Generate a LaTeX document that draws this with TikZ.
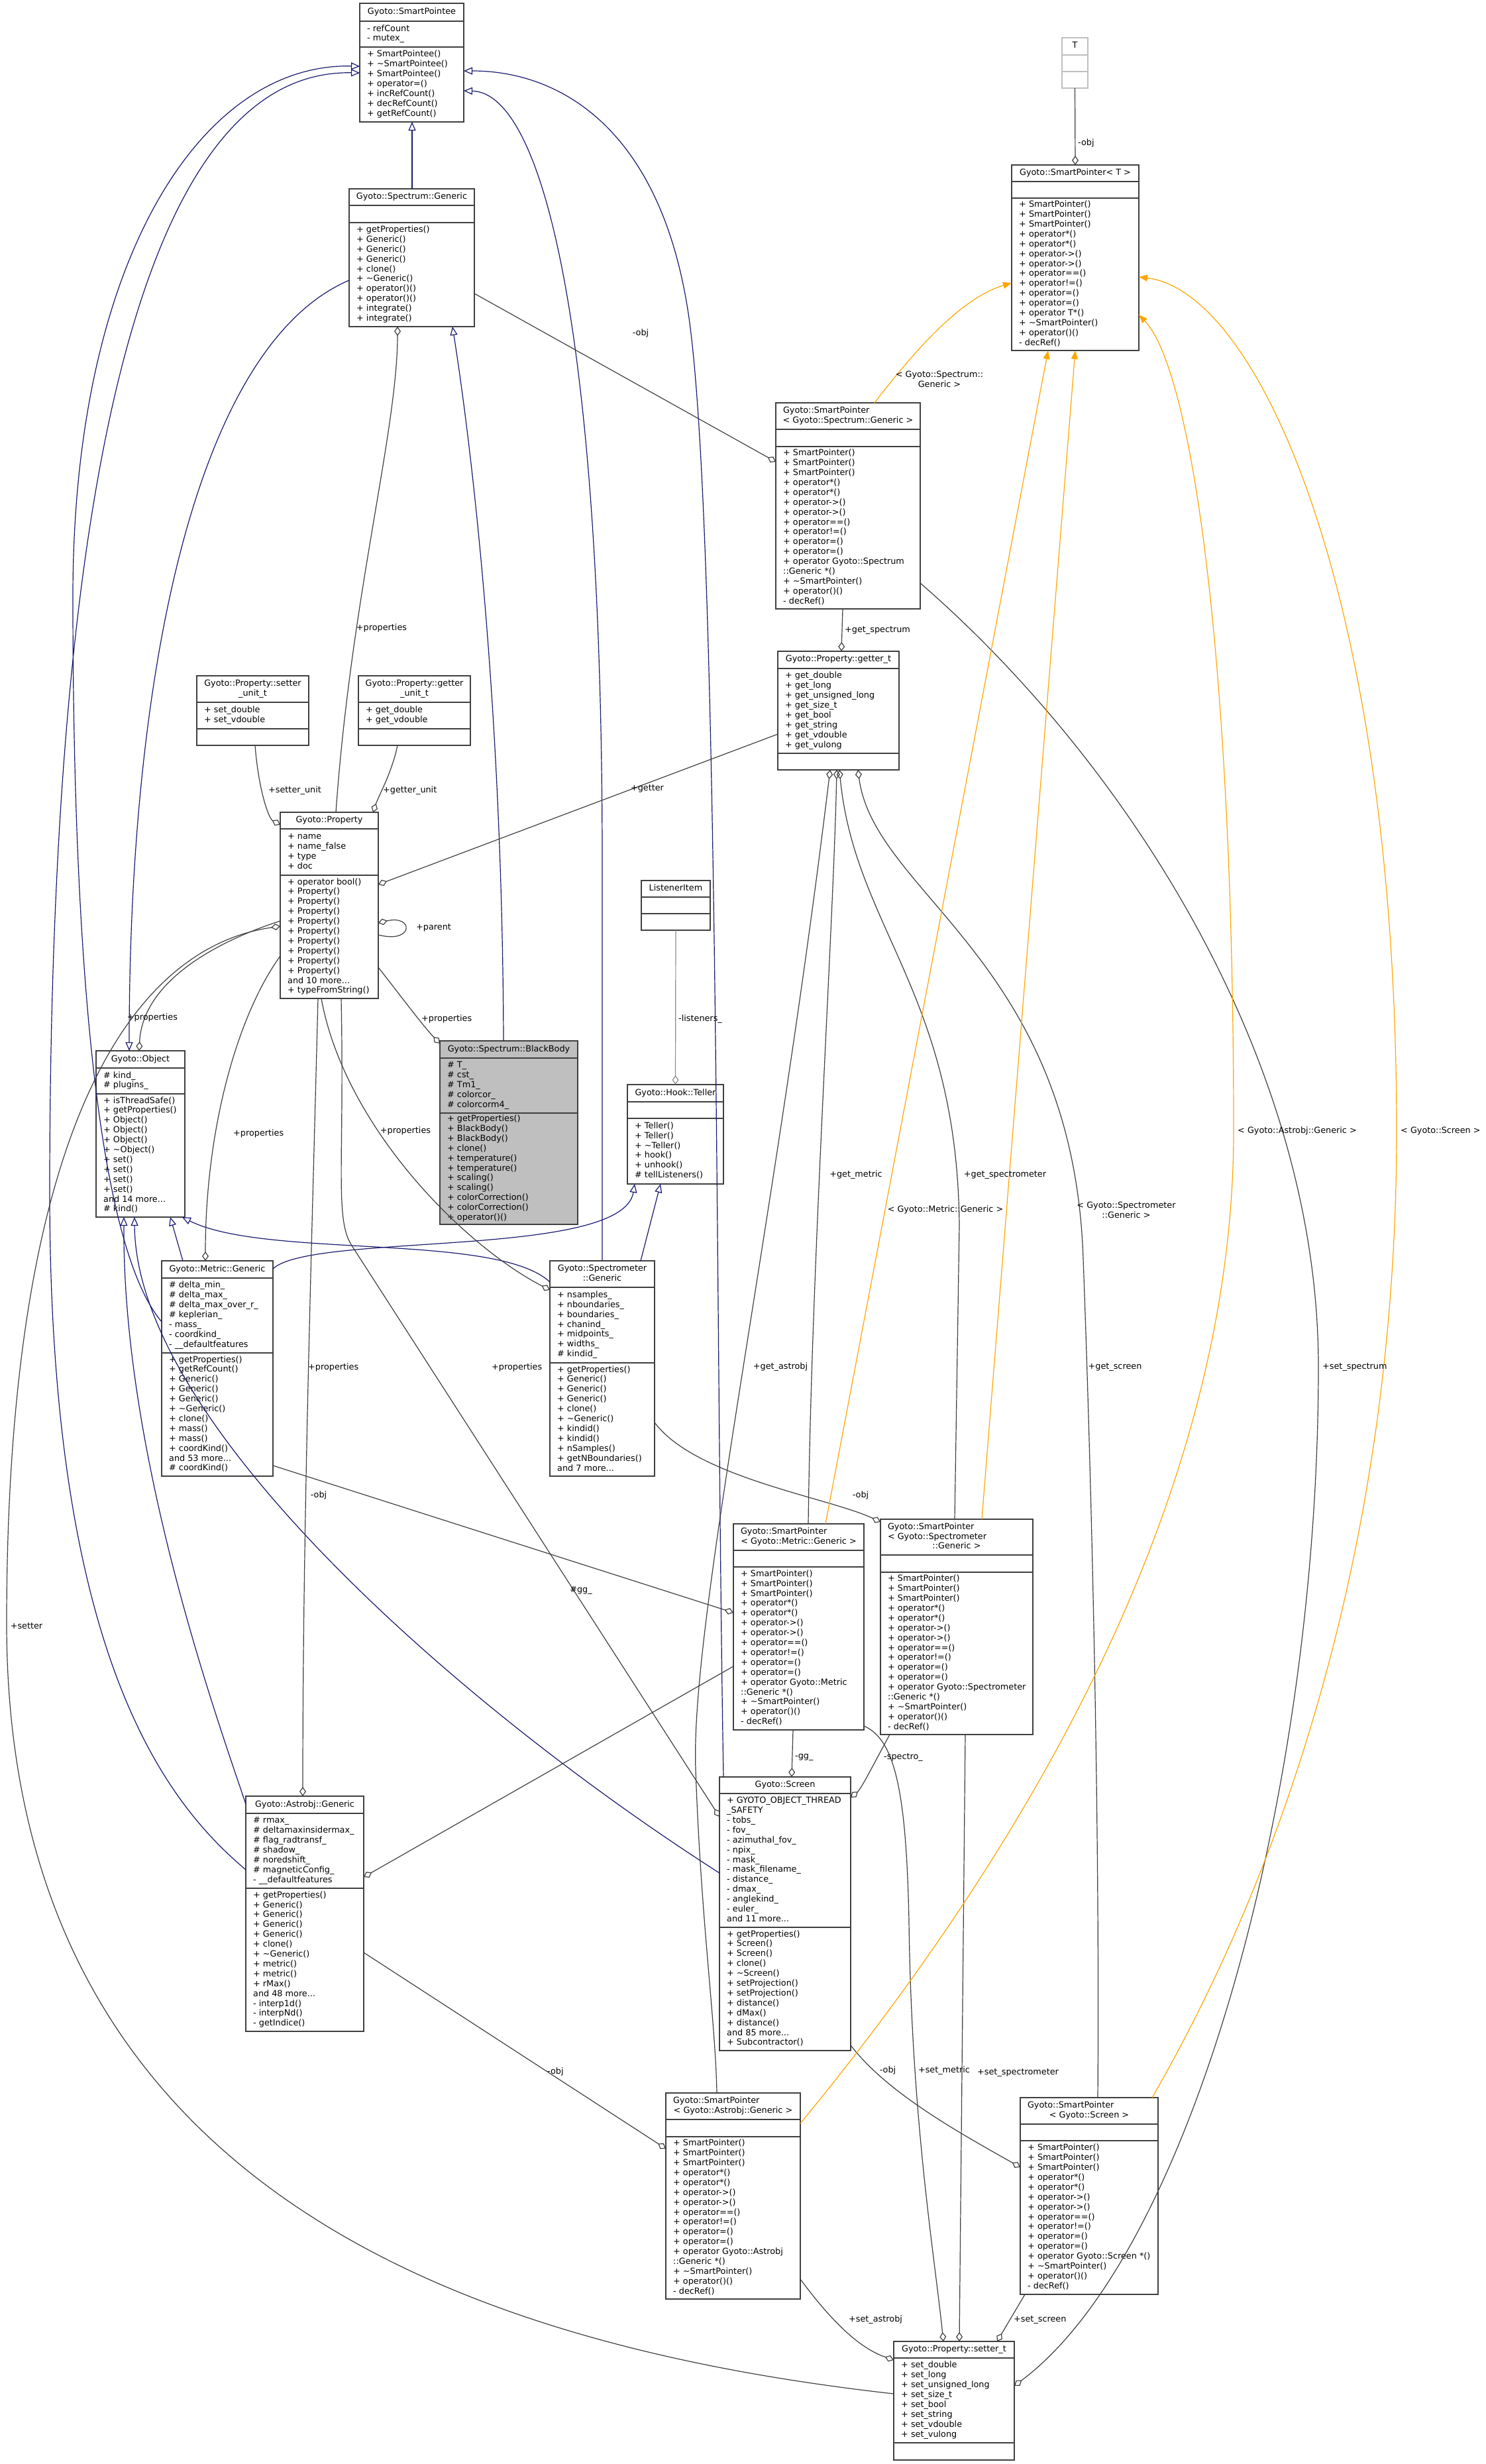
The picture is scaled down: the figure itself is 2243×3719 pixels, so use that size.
\documentclass[tikz,border=0pt]{standalone}
\usepackage{fontspec}
\setmainfont{DejaVu Sans}
\usetikzlibrary{arrows.meta,calc}
\definecolor{inhc}{HTML}{191970}
\definecolor{usec}{HTML}{404040}
\definecolor{boxc}{HTML}{404040}
\definecolor{tmplc}{HTML}{FFA500}
\definecolor{bbfill}{HTML}{BFBFBF}
\definecolor{lightc}{HTML}{BFBFBF}
\definecolor{lisc}{HTML}{8C8C8C}
\newcommand\boxfont{\fontsize{12.8}{14.9}\selectfont}
\newlength\umltw
\newcommand\lft[1]{\makebox[\umltw][l]{#1}}
\def\umlgeom#1,#2,#3,#4,#5,#6\relax{\def\ux{#1}\def\uy{#2}\def\uxx{#3}\def\uya{#4}\def\uyb{#5}\def\uyy{#6}}
\tikzset{
  umlframe/.style={draw=boxc,line width=1.3pt,fill=white,inner sep=0pt,outer sep=0pt,anchor=north west},
  umlsep/.style={draw=boxc,line width=1.3pt},
  umltext/.style={inner sep=0pt,font=\boxfont},
  elabel/.style={inner sep=0pt,font=\boxfont,align=center},
  inh/.style={draw=inhc,line width=1.2pt,-{Triangle[open,length=13pt,width=11pt]}},
  usel/.style={draw=usec,line width=1.2pt,-{Diamond[open,length=14pt,width=10pt]}},
  tmpl/.style={draw=tmplc,line width=1.2pt,-{Triangle[length=13pt,width=10pt]}},
}
\newcommand\umlbox[6][]{%
  \umlgeom#3\relax
  \setlength\umltw{\dimexpr\uxx pt-\ux pt-22pt\relax}%
  \node[umlframe,minimum width={\uxx-\ux},minimum height={\uyy-\uy},#1] (#2) at (\ux,\uy) {};
  \draw[umlsep,#1] (\ux,\uya) -- (\uxx,\uya) (\ux,\uyb) -- (\uxx,\uyb);
  \node[umltext] (#2-t) at ({(\ux+\uxx)/2},{(\uy+\uya)/2}) {\begin{tabular}{@{}c@{}}#4\end{tabular}};
  \node[umltext,anchor=west] (#2-a) at ({\ux+11},{(\uya+\uyb)/2}) {\begin{tabular}{@{}l@{}}#5\end{tabular}};
  \node[umltext,anchor=west] (#2-m) at ({\ux+11},{(\uyb+\uyy)/2}) {\begin{tabular}{@{}l@{}}#6\end{tabular}};
}
\newcommand\tld{\textasciitilde}
\begin{document}
\begin{tikzpicture}[x=1pt,y=-1pt]
\useasboundingbox (0,0) rectangle (2243,3719);
\fill[white] (0,0) rectangle (2243,3719);

% ---------- boxes ----------
\umlbox{spe}{543,5,700,32,71,184}{Gyoto::SmartPointee}{- refCount\\- mutex\_}{+ SmartPointee()\\+ \tld SmartPointee()\\+ SmartPointee()\\+ operator=()\\+ incRefCount()\\+ decRefCount()\\+ getRefCount()}

\umlbox{spg}{527,285,716,310,336,493}{Gyoto::Spectrum::Generic}{}{+ getProperties()\\+ Generic()\\+ Generic()\\+ Generic()\\+ clone()\\+ \tld Generic()\\+ operator()()\\+ operator()()\\+ integrate()\\+ integrate()}

\umlbox[draw=lightc]{tt}{1603,57,1642,83,108,133}{T}{}{}

\umlbox{spt}{1527,249,1719,274,299,529}{Gyoto::SmartPointer< T >}{}{+ SmartPointer()\\+ SmartPointer()\\+ SmartPointer()\\+ operator*()\\+ operator*()\\+ operator->()\\+ operator->()\\+ operator==()\\+ operator!=()\\+ operator=()\\+ operator=()\\+ operator T*()\\+ \tld SmartPointer()\\+ operator()()\\- decRef()}

\umlbox{sps}{1171,608,1389,648,674,919}{\lft{Gyoto::SmartPointer}\\< Gyoto::Spectrum::Generic >}{}{+ SmartPointer()\\+ SmartPointer()\\+ SmartPointer()\\+ operator*()\\+ operator*()\\+ operator->()\\+ operator->()\\+ operator==()\\+ operator!=()\\+ operator=()\\+ operator=()\\+ operator Gyoto::Spectrum\\::Generic *()\\+ \tld SmartPointer()\\+ operator()()\\- decRef()}

\umlbox{gt}{1174,983,1357,1009,1137,1162}{Gyoto::Property::getter\_t}{+ get\_double\\+ get\_long\\+ get\_unsigned\_long\\+ get\_size\_t\\+ get\_bool\\+ get\_string\\+ get\_vdouble\\+ get\_vulong}{}

\umlbox{sut}{297,1020,466,1060,1100,1125}{Gyoto::Property::setter\\\_unit\_t}{+ set\_double\\+ set\_vdouble}{}

\umlbox{gut}{541,1020,710,1060,1100,1125}{Gyoto::Property::getter\\\_unit\_t}{+ get\_double\\+ get\_vdouble}{}

\umlbox{prop}{423,1226,571,1251,1321,1507}{Gyoto::Property}{+ name\\+ name\_false\\+ type\\+ doc}{+ operator bool()\\+ Property()\\+ Property()\\+ Property()\\+ Property()\\+ Property()\\+ Property()\\+ Property()\\+ Property()\\+ Property()\\and 10 more...\\+ typeFromString()}

\umlbox{li}{968,1329,1072,1354,1379,1404}{ListenerItem}{}{}

\umlbox{obj}{145,1586,279,1612,1651,1837}{Gyoto::Object}{\# kind\_\\\# plugins\_}{+ isThreadSafe()\\+ getProperties()\\+ Object()\\+ Object()\\+ Object()\\+ \tld Object()\\+ set()\\+ set()\\+ set()\\+ set()\\and 14 more...\\\# kind()}

\umlbox[fill=bbfill]{bb}{664,1571,872,1597,1680,1848}{Gyoto::Spectrum::BlackBody}{\# T\_\\\# cst\_\\\# Tm1\_\\\# colorcor\_\\\# colorcorm4\_}{+ getProperties()\\+ BlackBody()\\+ BlackBody()\\+ clone()\\+ temperature()\\+ temperature()\\+ scaling()\\+ scaling()\\+ colorCorrection()\\+ colorCorrection()\\+ operator()()}

\umlbox{tel}{947,1637,1092,1663,1688,1787}{Gyoto::Hook::Teller}{}{+ Teller()\\+ Teller()\\+ \tld Teller()\\+ hook()\\+ unhook()\\\# tellListeners()}

\umlbox{met}{244,1903,412,1929,2042,2228}{Gyoto::Metric::Generic}{\# delta\_min\_\\\# delta\_max\_\\\# delta\_max\_over\_r\_\\\# keplerian\_\\- mass\_\\- coordkind\_\\- \_\_defaultfeatures}{+ getProperties()\\+ getRefCount()\\+ Generic()\\+ Generic()\\+ Generic()\\+ \tld Generic()\\+ clone()\\+ mass()\\+ mass()\\+ coordKind()\\and 53 more...\\\# coordKind()}

\umlbox{spm}{830,1903,988,1943,2057,2228}{Gyoto::Spectrometer\\::Generic}{+ nsamples\_\\+ nboundaries\_\\+ boundaries\_\\+ chanind\_\\+ midpoints\_\\+ widths\_\\\# kindid\_}{+ getProperties()\\+ Generic()\\+ Generic()\\+ Generic()\\+ clone()\\+ \tld Generic()\\+ kindid()\\+ kindid()\\+ nSamples()\\+ getNBoundaries()\\and 7 more...}

\umlbox{spmet}{1107,2300,1304,2340,2365,2611}{\lft{Gyoto::SmartPointer}\\< Gyoto::Metric::Generic >}{}{+ SmartPointer()\\+ SmartPointer()\\+ SmartPointer()\\+ operator*()\\+ operator*()\\+ operator->()\\+ operator->()\\+ operator==()\\+ operator!=()\\+ operator=()\\+ operator=()\\+ operator Gyoto::Metric\\::Generic *()\\+ \tld SmartPointer()\\+ operator()()\\- decRef()}

\umlbox{spspec}{1329,2293,1559,2347,2373,2618}{\lft{Gyoto::SmartPointer}\\\lft{< Gyoto::Spectrometer}\\::Generic >}{}{+ SmartPointer()\\+ SmartPointer()\\+ SmartPointer()\\+ operator*()\\+ operator*()\\+ operator->()\\+ operator->()\\+ operator==()\\+ operator!=()\\+ operator=()\\+ operator=()\\+ operator Gyoto::Spectrometer\\::Generic *()\\+ \tld SmartPointer()\\+ operator()()\\- decRef()}

\umlbox{ast}{371,2711,549,2737,2850,3066}{Gyoto::Astrobj::Generic}{\# rmax\_\\\# deltamaxinsidermax\_\\\# flag\_radtransf\_\\\# shadow\_\\\# noredshift\_\\\# magneticConfig\_\\- \_\_defaultfeatures}{+ getProperties()\\+ Generic()\\+ Generic()\\+ Generic()\\+ Generic()\\+ clone()\\+ \tld Generic()\\+ metric()\\+ metric()\\+ rMax()\\and 48 more...\\- interp1d()\\- interpNd()\\- getIndice()}

\umlbox{scr}{1086,2682,1284,2707,2909,3095}{Gyoto::Screen}{+ GYOTO\_OBJECT\_THREAD\\\_SAFETY\\- tobs\_\\- fov\_\\- azimuthal\_fov\_\\- npix\_\\- mask\_\\- mask\_filename\_\\- distance\_\\- dmax\_\\- anglekind\_\\- euler\_\\and 11 more...}{+ getProperties()\\+ Screen()\\+ Screen()\\+ clone()\\+ \tld Screen()\\+ setProjection()\\+ setProjection()\\+ distance()\\+ dMax()\\+ distance()\\and 85 more...\\+ Subcontractor()}

\umlbox{spast}{1005,3159,1208,3199,3225,3470}{\lft{Gyoto::SmartPointer}\\< Gyoto::Astrobj::Generic >}{}{+ SmartPointer()\\+ SmartPointer()\\+ SmartPointer()\\+ operator*()\\+ operator*()\\+ operator->()\\+ operator->()\\+ operator==()\\+ operator!=()\\+ operator=()\\+ operator=()\\+ operator Gyoto::Astrobj\\::Generic *()\\+ \tld SmartPointer()\\+ operator()()\\- decRef()}

\umlbox{spscr}{1540,3166,1748,3206,3231,3463}{\lft{Gyoto::SmartPointer}\\< Gyoto::Screen >}{}{+ SmartPointer()\\+ SmartPointer()\\+ SmartPointer()\\+ operator*()\\+ operator*()\\+ operator->()\\+ operator->()\\+ operator==()\\+ operator!=()\\+ operator=()\\+ operator=()\\+ operator Gyoto::Screen *()\\+ \tld SmartPointer()\\+ operator()()\\- decRef()}

\umlbox{st}{1349,3534,1531,3559,3687,3713}{Gyoto::Property::setter\_t}{+ set\_double\\+ set\_long\\+ set\_unsigned\_long\\+ set\_size\_t\\+ set\_bool\\+ set\_string\\+ set\_vdouble\\+ set\_vulong}{}

% ---------- inheritance ----------
\draw[inh] ($(spg.north west)+(95,0)$) -- ($(spe.south west)+(79,0)$);
\draw[inh] ($(spg.north west)+(0,138)$) .. controls (300,520) and (195,1000) .. ($(obj.north west)+(50,0)$);
\draw[inh] ($(bb.north west)+(96,0)$) .. controls (758,1000) and (700,600) .. ($(spg.south west)+(156,0)$);
\draw[inh] ($(met.north west)+(32,0)$) -- ($(obj.south west)+(112,0)$);
\draw[inh] ($(ast.north west)+(0,12)$) .. controls (330,2600) and (185,2200) .. ($(obj.south west)+(42,0)$);
\draw[inh] ($(scr.north west)+(0,145)$) .. controls (700,2580) and (205,2150) .. ($(obj.south west)+(58,0)$);
\draw[inh] ($(spm.north west)+(0,32)$) .. controls (750,1860) and (400,1900) .. ($(obj.south east)+(-4,0)$);
\draw[inh] ($(met.north west)+(0,92)$) .. controls (130,1860) and (110,1300) .. (110,900) .. controls (110,400) and (300,95) .. ($(spe.north west)+(0,95)$);
\draw[inh] ($(ast.north west)+(0,111)$) .. controls (250,2720) and (75,2500) .. (75,1800) .. controls (75,600) and (250,105) .. ($(spe.north west)+(0,105)$);
\draw[inh] ($(spm.north west)+(79,0)$) -- (909,1300) .. controls (909,500) and (820,140) .. ($(spe.north east)+(0,132)$);
\draw[inh] ($(scr.north west)+(6,0)$) .. controls (1080,2000) and (1085,800) .. (1040,480) .. controls (1000,200) and (850,107) .. ($(spe.north east)+(0,102)$);
\draw[inh] ($(met.north east)+(0,12)$) .. controls (470,1860) and (940,1900) .. ($(tel.south west)+(11,0)$);
\draw[inh] ($(spm.north west)+(137,0)$) -- ($(tel.south west)+(50,0)$);

% ---------- usage ----------
\draw[usel] (tt.south) -- (spt.north);
\draw[usel] ($(spg.north east)+(0,158)$) -- ($(sps.north west)+(0,89)$);
\draw[usel] ($(sps.south west)+(101,0)$) -- ($(gt.north west)+(96,0)$);
\draw[usel] ($(sps.south east)+(0,-39)$) .. controls (1700,1150) and (1990,1600) .. (1990,2063) .. controls (1990,2700) and (1800,3400) .. ($(st.north east)+(0,67)$);
\draw[usel] ($(gt.north west)+(0,125)$) -- ($(prop.north east)+(0,109)$);
\draw[usel] ($(sut.south west)+(88,0)$) .. controls (390,1190) and (405,1235) .. ($(prop.north west)+(0,19)$);
\draw[usel] ($(gut.south west)+(59,0)$) .. controls (592,1165) and (572,1200) .. ($(prop.north west)+(140,0)$);
\draw[usel] ($(prop.north west)+(84,0)$) .. controls (530,900) and (600,650) .. ($(spg.south west)+(73,0)$);
\draw[usel] ($(prop.north east)+(0,185)$) .. controls (625,1425) and (625,1380) .. ($(prop.north east)+(0,167)$);
\draw[usel] ($(prop.north west)+(0,164)$) .. controls (330,1420) and (215,1480) .. ($(obj.north west)+(65,0)$);
\draw[usel] ($(prop.north east)+(0,234)$) .. controls (610,1510) and (640,1550) .. ($(bb.north west)+(0,4)$);
\draw[usel] ($(prop.north west)+(0,217)$) .. controls (360,1530) and (310,1700) .. ($(met.north west)+(66,0)$);
\draw[usel] ($(prop.south west)+(62,0)$) .. controls (520,1700) and (700,1880) .. ($(spm.north west)+(0,44)$);
\draw[usel] ($(prop.south west)+(57,0)$) .. controls (470,1900) and (457,2300) .. ($(ast.north west)+(86,0)$);
\draw[usel] ($(prop.south west)+(92,0)$) .. controls (520,1760) and (505,1840) .. (531,1880) -- ($(scr.north west)+(0,60)$);
\draw[usel] ($(st.north west)+(0,79)$) .. controls (700,3540) and (10,3300) .. (10,2450) .. controls (10,1700) and (200,1430) .. ($(prop.north west)+(0,172)$);
\draw[usel] ($(spmet.north west)+(113,0)$) .. controls (1225,1900) and (1258,1400) .. ($(gt.south west)+(89,0)$);
\draw[usel] ($(spspec.north west)+(112,0)$) -- (1448,1850) .. controls (1445,1500) and (1290,1400) .. ($(gt.south west)+(93,0)$);
\draw[usel] ($(spast.north west)+(77,0)$) .. controls (1080,3050) and (1058,2900) .. (1050,2670) .. controls (1042,2450) and (1170,1850) .. ($(gt.south west)+(79,0)$);
\draw[usel] ($(spscr.north west)+(117,0)$) .. controls (1660,2800) and (1650,2300) .. (1635,1900) .. controls (1620,1450) and (1320,1350) .. ($(gt.south west)+(121,0)$);
\draw[usel] ($(met.north east)+(0,309)$) -- ($(spmet.north west)+(0,134)$);
\draw[usel] ($(spm.north east)+(0,244)$) .. controls (1050,2230) and (1250,2260) .. ($(spspec.north west)+(0,4)$);
\draw[usel] ($(spmet.north west)+(0,215)$) -- ($(ast.north east)+(0,122)$);
\draw[usel] ($(spmet.south west)+(90,0)$) -- ($(scr.north west)+(109,0)$);
\draw[usel] ($(spspec.south west)+(14,0)$) .. controls (1320,2660) and (1300,2700) .. ($(scr.north east)+(0,31)$);
\draw[usel] ($(ast.north east)+(0,236)$) -- ($(spast.north west)+(0,84)$);
\draw[usel] ($(scr.south east)+(0,-8)$) .. controls (1340,3160) and (1450,3220) .. ($(spscr.north west)+(0,105)$);
\draw[usel] ($(spmet.south east)+(0,-6)$) .. controls (1350,2625) and (1368,2700) .. (1372,2900) .. controls (1376,3200) and (1410,3400) .. ($(st.north west)+(75,0)$);
\draw[usel] ($(spspec.south west)+(128,0)$) -- ($(st.north west)+(99,0)$);
\draw[usel] ($(spast.north east)+(0,281)$) .. controls (1260,3510) and (1300,3545) .. ($(st.north west)+(0,28)$);
\draw[usel] ($(spscr.south west)+(7,0)$) -- ($(st.north west)+(156,0)$);
\draw[usel,draw=lisc] (li.south) -- (tel.north);

% ---------- template instances ----------
\draw[tmpl] ($(sps.north west)+(149,0)$) .. controls (1380,530) and (1450,450) .. ($(spt.north west)+(0,178)$);
\draw[tmpl] ($(spmet.north west)+(139,0)$) -- ($(spt.south west)+(55,0)$);
\draw[tmpl] ($(spspec.north west)+(153,0)$) -- ($(spt.south west)+(96,0)$);
\draw[tmpl] ($(spast.north east)+(0,46)$) .. controls (1500,2850) and (1862,2300) .. (1862,1707) .. controls (1862,1000) and (1800,560) .. ($(spt.north east)+(0,226)$);
\draw[tmpl] ($(spscr.north east)+(-9,0)$) .. controls (1950,2800) and (2108,2300) .. (2108,1707) .. controls (2108,900) and (1900,440) .. ($(spt.north east)+(0,169)$);

% ---------- labels ----------
\node[elabel,anchor=west] (l01) at (1627,216) {-obj};
\node[elabel] (l02) at (967,503) {-obj};
\node[elabel] (l03) at (1418,572) {< Gyoto::Spectrum::\\Generic >};
\node[elabel,anchor=west] (l04) at (1275,951) {+get\_spectrum};
\node[elabel] (l05) at (576,948) {+properties};
\node[elabel,anchor=west] (l06) at (405,1193) {+setter\_unit};
\node[elabel,anchor=west] (l07) at (578,1193) {+getter\_unit};
\node[elabel] (l08) at (977,1190) {+getter};
\node[elabel,anchor=west] (l09) at (628,1400) {+parent};
\node[elabel,anchor=west] (l10) at (1024,1538) {-listeners\_};
\node[elabel] (l11) at (230,1536) {+properties};
\node[elabel,anchor=west] (l12) at (636,1538) {+properties};
\node[elabel,anchor=west] (l13) at (352,1711) {+properties};
\node[elabel] (l14) at (612,1707) {+properties};
\node[elabel] (l15) at (1292,1773) {+get\_metric};
\node[elabel] (l16) at (1517,1773) {+get\_spectrometer};
\node[elabel] (l17) at (1427,1826) {< Gyoto::Metric::Generic >};
\node[elabel] (l18) at (1700,1826) {< Gyoto::Spectrometer\\::Generic >};
\node[elabel,anchor=west] (l19) at (1868,1707) {< Gyoto::Astrobj::Generic >};
\node[elabel,anchor=west] (l20) at (2114,1707) {< Gyoto::Screen >};
\node[elabel,anchor=west] (l21) at (465,2064) {+properties};
\node[elabel,anchor=west] (l22) at (742,2064) {+properties};
\node[elabel] (l23) at (1178,2063) {+get\_astrobj};
\node[elabel] (l24) at (1683,2063) {+get\_screen};
\node[elabel,anchor=west] (l25) at (1996,2063) {+set\_spectrum};
\node[elabel] (l26) at (481,2257) {-obj};
\node[elabel] (l27) at (1299,2257) {-obj};
\node[elabel] (l28) at (877,2400) {\#gg\_};
\node[elabel,anchor=west] (l29) at (1200,2652) {-gg\_};
\node[elabel,anchor=west] (l30) at (1334,2652) {-spectro\_};
\node[elabel] (l31) at (40,2454) {+setter};
\node[elabel,anchor=west] (l32) at (826,3127) {-obj};
\node[elabel] (l33) at (1340,3125) {-obj};
\node[elabel] (l34) at (1425,3125) {+set\_metric};
\node[elabel,anchor=west] (l35) at (1475,3128) {+set\_spectrometer};
\node[elabel,anchor=west] (l36) at (1281,3501) {+set\_astrobj};
\node[elabel,anchor=west] (l37) at (1530,3501) {+set\_screen};
\end{tikzpicture}
\end{document}
